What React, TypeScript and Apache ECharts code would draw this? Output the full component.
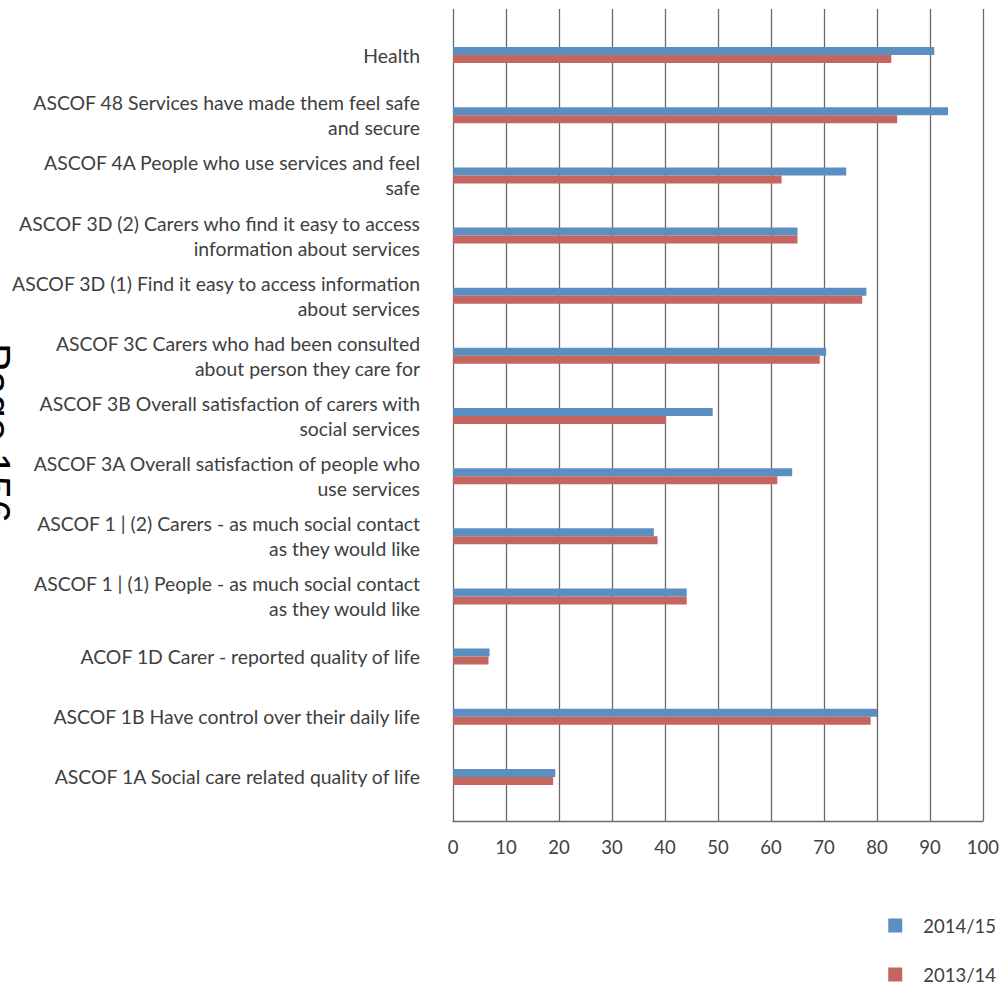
import React, { useEffect, useRef } from "react";
import * as echarts from "echarts";

// Categories listed bottom -> top (category axis starts at the bottom)
const categories: string[] = [
  "ASCOF 1A Social care related quality of life",
  "ASCOF 1B Have control over their daily life",
  "ACOF 1D Carer - reported quality of life",
  "ASCOF 1 | (1) People - as much social contact\nas they would like",
  "ASCOF 1 | (2) Carers - as much social contact\nas they would like",
  "ASCOF 3A Overall satisfaction of people who\nuse services",
  "ASCOF 3B Overall satisfaction of carers with\nsocial services",
  "ASCOF 3C Carers who had been consulted\nabout person they care for",
  "ASCOF 3D (1) Find it easy to access information\nabout services",
  "ASCOF 3D (2) Carers who find it easy to access\ninformation about services",
  "ASCOF 4A People who use services and feel\nsafe",
  "ASCOF 48 Services have made them feel safe\nand secure",
  "Health",
];

const values2014_15: number[] = [19.3, 80.0, 6.9, 44.1, 37.9, 64.0, 49.0, 70.4, 78.0, 65.0, 74.2, 93.4, 90.8];
const values2013_14: number[] = [18.9, 78.8, 6.7, 44.1, 38.6, 61.2, 40.2, 69.2, 77.2, 65.0, 62.0, 83.8, 82.7];

const seriesNames: string[] = ["2014/15", "2013/14"];
const xTicks = { min: 0, max: 100, interval: 10 };

const BLUE = "#5B8FC1";
const RED = "#C4655F";
const TEXT = "#404040";
const GRID = "#6a6a6a";
const FONT = "Lato";

export default function App() {
  const ref = useRef<HTMLDivElement>(null);

  useEffect(() => {
    if (!ref.current) return;
    const chart = echarts.init(ref.current, undefined, { renderer: "svg" });
    const option: any = {
      animation: false,
      backgroundColor: "#ffffff",
      textStyle: { fontFamily: FONT },
      grid: [
        { left: 453, right: 19, top: 25, bottom: 181, containLabel: false },
        { left: 453, right: 19, top: 9, bottom: 167, containLabel: false },
      ],
      xAxis: [
        {
          gridIndex: 0,
          type: "value",
          min: xTicks.min,
          max: xTicks.max,
          interval: xTicks.interval,
          show: false,
        },
        {
          gridIndex: 1,
          type: "value",
          min: xTicks.min,
          max: xTicks.max,
          interval: xTicks.interval,
          axisLine: { show: true, lineStyle: { color: GRID, width: 1.3 } },
          axisTick: { show: false },
          splitLine: { show: true, lineStyle: { color: GRID, width: 1.3 } },
          axisLabel: { color: TEXT, fontSize: 18.5, fontFamily: FONT, margin: 16 },
        },
      ],
      yAxis: [
        {
          gridIndex: 0,
          type: "category",
          data: categories,
          axisLine: { show: false },
          axisTick: { show: false },
          splitLine: { show: false },
          axisLabel: {
            color: TEXT,
            fontSize: 19.4,
            fontFamily: FONT,
            lineHeight: 25,
            margin: 33,
            align: "right",
          },
        },
        { gridIndex: 1, type: "value", show: false, min: 0, max: 1 },
      ],
      legend: {
        orient: "vertical",
        right: 6,
        top: 916,
        height: 72,
        padding: 0,
        data: seriesNames,
        icon: "rect",
        itemWidth: 14,
        itemHeight: 14,
        itemGap: 30,
        textStyle: { color: TEXT, fontSize: 18.5, fontFamily: FONT, padding: [0, 0, 0, 16] },
      },
      graphic: [
        {
          type: "text",
          x: 16,
          y: 343,
          rotation: -Math.PI / 2,
          style: {
            text: "Page 156",
            fontFamily: "Liberation Sans",
            fontSize: 42,
            fill: "#000000",
            textAlign: "left",
            textVerticalAlign: "top",
          },
        },
      ],
      series: [
        {
          name: seriesNames[0],
          type: "bar",
          xAxisIndex: 0,
          yAxisIndex: 0,
          data: values2014_15,
          barWidth: 8,
          barGap: "0%",
          itemStyle: { color: BLUE },
        },
        {
          name: seriesNames[1],
          type: "bar",
          xAxisIndex: 0,
          yAxisIndex: 0,
          data: values2013_14,
          barWidth: 8,
          barGap: "0%",
          itemStyle: { color: RED },
        },
      ],
    };
    chart.setOption(option);
    return () => chart.dispose();
  }, []);

  return (
    <div
      ref={ref}
      style={{ position: "absolute", left: 0, top: 0, width: 1002, height: 988 }}
    />
  );
}
